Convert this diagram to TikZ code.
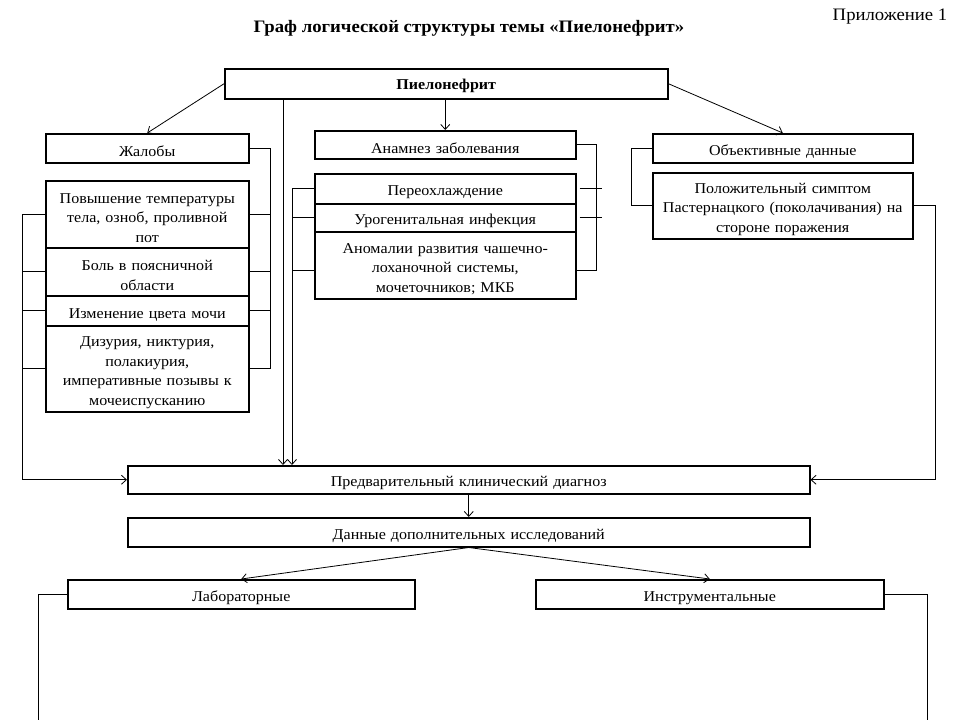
\documentclass[tikz,border=0pt]{standalone}
\usepackage{fontspec}
\setmainfont{Liberation Serif}[FakeStretch=1.07]
\usetikzlibrary{arrows.meta}
\begin{document}
\begin{tikzpicture}[x=1pt,y=-1pt,
  box/.style={draw, line width=1.5pt, anchor=north west, inner xsep=2pt, inner ysep=0pt, align=center, text height=17.5pt, font=\fontsize{15}{19.5}\selectfont},
  ln/.style={line width=0.8pt},
  arr/.style={ln, -{Straight Barb[length=5pt,width=9pt]}},
  ttl/.style={font=\fontsize{17.5}{20}\selectfont\bfseries}]
\useasboundingbox (0,0) rectangle (960,720);
% title
\node[ttl] (title) at (469,28) {Граф логической структуры темы «Пиелонефрит»};
\node[font=\fontsize{17.5}{20}\selectfont] (app) at (890,17) {Приложение 1};
% main
\node[box, font=\fontsize{15}{17}\selectfont\bfseries, text height=15pt, text width=439pt, minimum height=30pt] (main) at (224,68) {Пиелонефрит};
% left column
\node[box, text width=199pt, minimum height=29pt] (zhal) at (45,133) {Жалобы};
\node[box, text width=199pt, minimum height=67pt] (z1) at (45,180) {Повышение температуры\\тела, озноб, проливной\\пот};
\node[box, text width=199pt, minimum height=48pt] (z2) at (45,247) {Боль в поясничной\\области};
\node[box, text width=199pt, minimum height=30pt] (z3) at (45,295) {Изменение цвета мочи};
\node[box, text width=199pt, minimum height=86pt] (z4) at (45,325) {Дизурия, никтурия,\\полакиурия,\\императивные позывы к\\мочеиспусканию};
% middle column
\node[box, text width=257pt, minimum height=28pt] (anam) at (314,130) {Анамнез заболевания};
\node[box, text width=257pt, minimum height=30pt] (a1) at (314,173) {Переохлаждение};
\node[box, text width=257pt, minimum height=28pt] (a2) at (314,203) {Урогенитальная инфекция};
\node[box, text width=257pt, minimum height=67pt] (a3) at (314,231) {Аномалии развития чашечно-\\лоханочной системы,\\мочеточников; МКБ};
% right column
\node[box, text width=256pt, minimum height=29pt] (obj) at (652,133) {Объективные данные};
\node[box, text width=256pt, minimum height=66pt] (o1) at (652,172) {Положительный симптом\\Пастернацкого (поколачивания) на\\стороне поражения};
% lower
\node[box, text width=678pt, minimum height=28pt] (pred) at (127,465) {Предварительный клинический диагноз};
\node[box, text width=678pt, minimum height=29pt] (dan) at (127,517) {Данные дополнительных исследований};
\node[box, text width=343pt, minimum height=29pt] (lab) at (67,579) {Лабораторные};
\node[box, text width=344pt, minimum height=29pt] (ins) at (535,579) {Инструментальные};
% helper coordinates
\coordinate (c1) at (283,98);
\coordinate (zr) at (270,0);
\coordinate (zl) at (22,0);
\coordinate (ar) at (596,0);
\coordinate (ml) at (292,0);
\coordinate (ol) at (631,0);
\coordinate (orr) at (935,0);
\coordinate (lb) at (38,720);
\coordinate (rb) at (927,720);
% connectors from main
\draw[arr] (main.west) -- (zhal.north);
\draw[arr] (anam.north |- main.south) -- (anam.north);
\draw[arr] (main.east) -- (obj.north);
\draw[arr] (c1) -- (c1 |- pred.north);
% left column brackets
\draw[ln] (zhal.east) -- (zhal.east -| zr) -- (z4.east -| zr) -- (z4.east);
\draw[ln] (z1.east) -- (z1.east -| zr);
\draw[ln] (z2.east) -- (z2.east -| zr);
\draw[ln] (z3.east) -- (z3.east -| zr);
\draw[arr] (z1.west) -- (z1.west -| zl) -- (pred.west -| zl) -- (pred.west);
\draw[ln] (z2.west) -- (z2.west -| zl);
\draw[ln] (z3.west) -- (z3.west -| zl);
\draw[ln] (z4.west) -- (z4.west -| zl);
% middle column brackets
\draw[ln] (anam.east) -- (anam.east -| ar) -- ([yshift=-5pt]a3.east -| ar) -- ([yshift=-5pt]a3.east);
\draw[ln] ([xshift=3pt]a1.east) -- ++(22,0);
\draw[ln] ([xshift=3pt]a2.east) -- ++(22,0);
\draw[arr] (a1.west) -- (a1.west -| ml) -- (pred.north -| ml);
\draw[ln] (a2.west) -- (a2.west -| ml);
\draw[ln] ([yshift=-5pt]a3.west) -- ([yshift=-5pt]a3.west -| ml);
% right column brackets
\draw[ln] (obj.west) -- (obj.west -| ol) -- (o1.west -| ol) -- (o1.west);
\draw[arr] (o1.east) -- (o1.east -| orr) -- (pred.east -| orr) -- (pred.east);
% lower connectors
\draw[arr] (pred.south) -- (dan.north);
\draw[arr] (dan.south) -- (lab.north);
\draw[arr] (dan.south) -- (ins.north);
\draw[ln] (lab.west) -| (lb);
\draw[ln] (ins.east) -| (rb);
\end{tikzpicture}
\end{document}
